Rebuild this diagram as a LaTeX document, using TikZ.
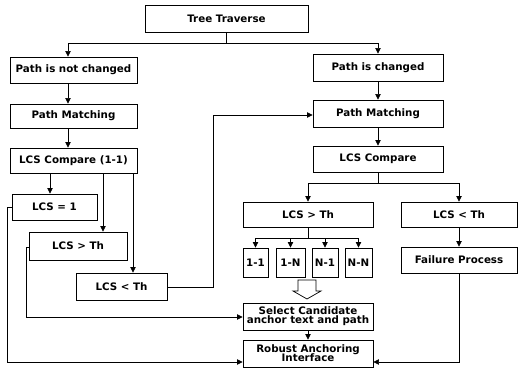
\documentclass[tikz,border=0pt]{standalone}
\usepackage{fontspec}
\setsansfont{DejaVu Sans}
\usetikzlibrary{arrows.meta,shadows}
\begin{document}
\begin{tikzpicture}[x=1pt,y=-1pt,
  bx/.style={draw,line width=0.9pt,fill=white,inner sep=0pt,align=center,
    font=\sffamily\bfseries\fontsize{10.3}{10.8}\selectfont,
    drop shadow={shadow xshift=1.2pt,shadow yshift=-1.2pt,fill=black!80,opacity=1}},
  arr/.style={line width=0.7pt,-{Triangle[width=5.5pt,length=5.5pt]}},
  ln/.style={line width=0.7pt}]
\useasboundingbox (0,0) rectangle (521,377);
\newcommand{\bxn}[7]{\node[bx,minimum width=#4,minimum height=#5] (#1) at (#2,#3) {#6};}
% nodes
\bxn{tt}{226.5}{18.5}{163pt}{27pt}{Tree Traverse}{}
\bxn{pnc}{73.5}{70}{127pt}{26pt}{Path is not changed}{}
\bxn{pma}{73.5}{116}{127pt}{24pt}{Path Matching}{}
\bxn{lca}{73.5}{160.5}{127pt}{25pt}{LCS Compare (1-1)}{}
\bxn{pc}{378}{67.5}{130pt}{27pt}{Path is changed}{}
\bxn{pmb}{378}{113.5}{130pt}{27pt}{Path Matching}{}
\bxn{lcb}{378}{159}{130pt}{26pt}{LCS Compare}{}
\bxn{gtb}{308}{214.5}{130pt}{25pt}{LCS \textgreater{} Th}{}
\bxn{ltb}{459}{214.5}{116pt}{25pt}{LCS \textless{} Th}{}
\bxn{fp}{459}{260}{116pt}{26pt}{Failure Process}{}
\bxn{ba}{255.5}{262.5}{25pt}{29pt}{1-1}{}
\bxn{bb}{290.5}{262.5}{29pt}{29pt}{1-N}{}
\bxn{bc}{325}{262.5}{26pt}{29pt}{N-1}{}
\bxn{bd}{358.5}{262.5}{27pt}{29pt}{N-N}{}
\bxn{sel}{308}{316.5}{130pt}{27pt}{Select Candidate\\[-1.5pt]anchor text and path}{}
\bxn{rob}{308}{353.5}{130pt}{27pt}{Robust Anchoring\\[-1.5pt]Interface}{}
\bxn{eqa}{54.5}{207}{85pt}{26pt}{LCS = 1}{}
\bxn{gta}{78}{246}{98pt}{28pt}{LCS \textgreater{} Th}{}
\bxn{lta}{121.5}{286.5}{91pt}{27pt}{LCS \textless{} Th}{}
% helper coordinates
\coordinate (busL) at (68,43);
\coordinate (busC) at (308,183);
\coordinate (busS) at (308,238);
\coordinate (xa) at (50,0);
\coordinate (xb) at (103,0);
\coordinate (xc) at (133,0);
\coordinate (ra) at (213,287);
\coordinate (rb) at (213,115);
\coordinate (la) at (7,207);
\coordinate (lb) at (7,362);
\coordinate (ma) at (26,247);
\coordinate (mb) at (26,317);
\coordinate (fa) at (459,362);
% connectors
\draw[ln] (tt.south) -- (tt.south |- busL);
\draw[arr] (tt.south |- busL) -- (busL) -- (busL |- pnc.north);
\draw[arr] (tt.south |- busL) -| (pc.north);
\draw[arr] (pnc.south -| busL) -- (pma.north -| busL);
\draw[arr] (pma.south -| busL) -- (lca.north -| busL);
\draw[arr] (pc.south) -- (pmb.north);
\draw[arr] (pmb.south) -- (lcb.north);
\draw[ln] (lcb.south) -- (lcb.south |- busC);
\draw[arr] (lcb.south |- busC) -| (gtb.north);
\draw[arr] (lcb.south |- busC) -| (ltb.north);
\draw[arr] (ltb.south) -- (fp.north);
\draw[ln] (gtb.south) -- (busS);
\draw[arr] (busS) -| (ba.north);
\draw[arr] (busS) -| (bb.north);
\draw[arr] (busS) -| (bc.north);
\draw[arr] (busS) -| (bd.north);
\draw[line width=0.7pt,fill=white] (298,280) -- (316,280) -- (316,291) -- (321,291) -- (307,299) -- (293,291) -- (298,291) -- cycle;
\draw[arr] (sel.south) -- (rob.north);
\draw[arr] (fp.south) -- (fa) -- (fa -| rob.east);
\draw[arr] (lca.south -| xa) -- (eqa.north -| xa);
\draw[arr] (lca.south -| xb) -- (gta.north -| xb);
\draw[arr] (lca.south -| xc) -- (lta.north -| xc);
\draw[arr] (lta.east |- ra) -- (ra) -- (rb) -- (rb -| pmb.west);
\draw[arr] (eqa.west |- la) -- (la) -- (lb) -- (lb -| rob.west);
\draw[arr] (gta.west |- ma) -- (ma) -- (mb) -- (mb -| sel.west);
\end{tikzpicture}
\end{document}
